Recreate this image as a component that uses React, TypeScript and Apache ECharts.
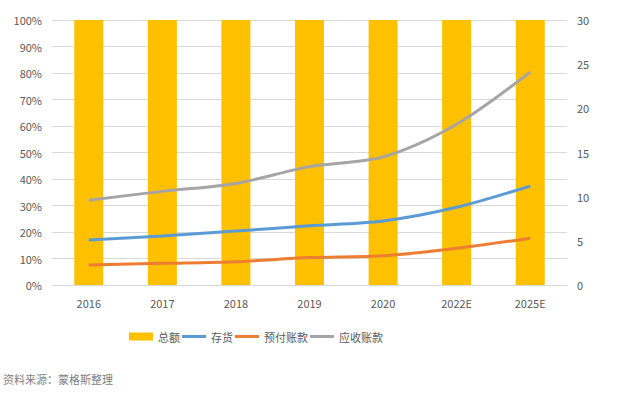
import React, { useEffect, useRef } from "react";
import * as echarts from "echarts";

const categories = ["2016", "2017", "2018", "2019", "2020", "2022E", "2025E"];
const totalShare = [100, 100, 100, 100, 100, 100, 100];
const inventory = [5.1, 5.55, 6.1, 6.7, 7.25, 8.8, 11.2];
const prepayments = [2.26, 2.45, 2.64, 3.1, 3.3, 4.15, 5.3];
const receivables = [9.6, 10.6, 11.5, 13.4, 14.5, 18.2, 24.1];
const leftTicks = [0, 10, 20, 30, 40, 50, 60, 70, 80, 90, 100];

const FONT = "'Noto Sans CJK SC', 'Noto Sans', sans-serif";
const TXT = "#595959";
const LINE_ICON = "path://M0,0M0,2.5H24V5.5H0ZM24,8";

export default function App() {
  const ref = useRef<HTMLDivElement>(null);
  useEffect(() => {
    const chart = echarts.init(ref.current!, undefined, { renderer: "svg" });
    chart.setOption({
      animation: false,
      backgroundColor: "#ffffff",
      textStyle: { fontFamily: FONT },
      grid: { left: 52, right: 57, top: 20, bottom: 111 },
      legend: {
        left: 124,
        top: 326,
        itemGap: 2,
        itemWidth: 24,
        itemHeight: 8,
        textStyle: { color: TXT, fontSize: 11, fontFamily: FONT },
        data: [
          { name: "总额", icon: "rect" },
          { name: "存货", icon: LINE_ICON },
          { name: "预付账款", icon: LINE_ICON },
          { name: "应收账款", icon: LINE_ICON },
        ],
      },
      graphic: [
        {
          type: "text",
          left: 3,
          top: 373,
          style: {
            text: "资料来源：蒙格斯整理",
            fill: "#7f7f7f",
            font: `11px ${FONT}`,
          },
        },
      ],
      xAxis: {
        type: "category",
        data: categories,
        axisLine: { lineStyle: { color: "#d9d9d9" } },
        axisTick: { show: false },
        axisLabel: { color: TXT, fontSize: 11, margin: 12, fontFamily: FONT },
      },
      yAxis: [
        {
          type: "value",
          min: leftTicks[0],
          max: leftTicks[leftTicks.length - 1],
          interval: 10,
          axisLabel: { formatter: "{value}%", color: TXT, fontSize: 11, margin: 10, fontFamily: FONT },
          splitLine: { lineStyle: { color: "#d9d9d9" } },
          axisLine: { show: false },
          axisTick: { show: false },
        },
        {
          type: "value",
          min: 0,
          max: 30,
          interval: 5,
          axisLabel: { color: TXT, fontSize: 11, margin: 10, fontFamily: FONT },
          splitLine: { show: false },
          axisLine: { show: false },
          axisTick: { show: false },
        },
      ],
      series: [
        {
          name: "总额",
          type: "bar",
          data: totalShare,
          barWidth: 29,
          itemStyle: { color: "#FFC000" },
          yAxisIndex: 0,
        },
        {
          name: "存货",
          type: "line",
          data: inventory,
          yAxisIndex: 1,
          smooth: 0.3,
          symbol: "none",
          lineStyle: { color: "#5B9BD5", width: 3 },
          itemStyle: { color: "#5B9BD5" },
        },
        {
          name: "预付账款",
          type: "line",
          data: prepayments,
          yAxisIndex: 1,
          smooth: 0.3,
          symbol: "none",
          lineStyle: { color: "#ED7D31", width: 3 },
          itemStyle: { color: "#ED7D31" },
        },
        {
          name: "应收账款",
          type: "line",
          data: receivables,
          yAxisIndex: 1,
          smooth: 0.3,
          symbol: "none",
          lineStyle: { color: "#A5A5A5", width: 3 },
          itemStyle: { color: "#A5A5A5" },
        },
      ],
    });
    return () => chart.dispose();
  }, []);
  return (
    <div
      ref={ref}
      style={{ position: "fixed", left: 0, top: 0, width: 624, height: 396 }}
    />
  );
}
